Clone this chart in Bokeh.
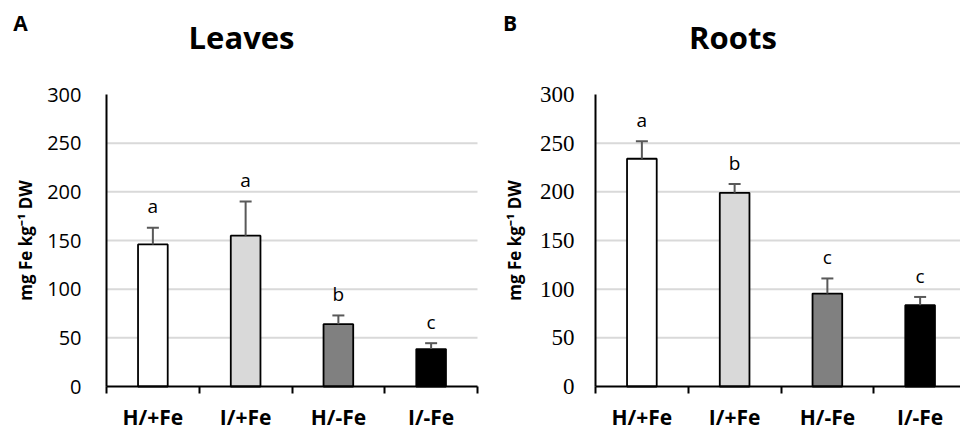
from bokeh.plotting import figure
from bokeh.models import (Range1d, FixedTicker, Whisker, TeeHead, ColumnDataSource)
from bokeh.layouts import row
from bokeh.core.properties import value
from bokeh.embed import file_html
from bokeh.resources import INLINE

categories = ["H/+Fe", "I/+Fe", "H/-Fe", "I/-Fe"]
bar_colors = ["#ffffff", "#d9d9d9", "#808080", "#000000"]

leaves_mean = [146, 155, 64, 38.5]
leaves_sd = [17, 35, 9, 6]
leaves_letters = ["a", "a", "b", "c"]

roots_mean = [234, 199, 95.5, 83.5]
roots_sd = [18, 9, 15.5, 8.5]
roots_letters = ["a", "b", "c", "c"]

y_ticks = [0, 50, 100, 150, 200, 250, 300]
grid_values = [50, 100, 150, 200, 250]
Y_MAX = 300

SANS = "Open Sans"
SERIF = "Liberation Serif"

# layout constants (pixels)
CAT_PX = 92.75           # width of one category
PX_PER_UNIT = 292 / 300  # vertical scale
AXIS_Y_PX = 386          # page y of the x axis
FIG_H = 430


def make_panel(title, letter, means, sds, letters, tick_font, tick_size,
               fig_w, axis_px, label_standoff, axis_label_standoff):
    x_start = -axis_px / CAT_PX
    x_end = (fig_w - axis_px) / CAT_PX
    y_end = AXIS_Y_PX / PX_PER_UNIT
    y_start = -(FIG_H - AXIS_Y_PX) / PX_PER_UNIT
    p = figure(frame_width=fig_w, frame_height=FIG_H,
               x_range=Range1d(x_start, x_end), y_range=Range1d(y_start, y_end),
               output_backend="svg", toolbar_location=None,
               min_border_left=0, min_border_right=0,
               min_border_top=0, min_border_bottom=0)
    p.outline_line_color = None
    p.background_fill_color = "white"
    p.border_fill_color = "white"
    p.xgrid.grid_line_color = None
    p.ygrid.grid_line_color = None

    n = len(categories)
    xs = [i + 0.5 for i in range(n)]
    uppers = [m + s for m, s in zip(means, sds)]

    # horizontal gridlines, only across the plotting area
    p.segment(x0=[0] * len(grid_values), x1=[n] * len(grid_values),
              y0=grid_values, y1=grid_values, line_color="#d9d9d9", line_width=2)

    src = ColumnDataSource(dict(x=xs, top=means, upper=uppers, color=bar_colors,
                                letter=letters, ly=[u + 22 for u in uppers]))

    p.vbar(x="x", top="top", bottom=0, width=0.32, fill_color="color",
           line_color="black", line_width=1.8, source=src)

    w = Whisker(source=src, base="x", lower="top", upper="upper", dimension="height",
                line_color="#595959", line_width=2,
                upper_head=TeeHead(size=12, line_color="#595959", line_width=2),
                lower_head=None, level="overlay")
    p.add_layout(w)

    p.text(x="x", y="ly", text="letter", source=src, text_font=value(SANS),
           text_font_size="19px", text_align="center", text_baseline="middle",
           text_color="black")

    # panel title and panel letter (placed in data space above the axes)
    p.text(x=[title[1]], y=[359], text=[title[0]], text_font=value(SANS),
           text_font_style="bold", text_font_size="31px", text_align="center",
           text_baseline="middle", text_color="black")
    p.text(x=[letter[1]], y=[373], text=[letter[0]], text_font=value(SANS),
           text_font_style="bold", text_font_size="21px", text_align="center",
           text_baseline="middle", text_color="black")

    # y axis, fixed at x = 0
    ya = p.yaxis[0]
    ya.fixed_location = 0
    ya.bounds = (0, Y_MAX)
    ya.ticker = FixedTicker(ticks=y_ticks, minor_ticks=[])
    ya.major_tick_in = 0
    ya.major_tick_out = 0
    ya.minor_tick_line_color = None
    ya.axis_line_color = "black"
    ya.axis_line_width = 2
    ya.major_label_text_font = tick_font
    ya.major_label_text_font_size = tick_size
    ya.major_label_text_color = "black"
    ya.major_label_standoff = label_standoff
    ya.axis_label = "mg Fe kg\u207b\u00b9 DW"
    ya.axis_label_text_font = SANS
    ya.axis_label_text_font_style = "bold"
    ya.axis_label_text_font_size = "17px"
    ya.axis_label_text_color = "black"
    ya.axis_label_standoff = axis_label_standoff

    # x axis, fixed at y = 0
    xa = p.xaxis[0]
    xa.fixed_location = 0
    xa.bounds = (0, n)
    xa.ticker = FixedTicker(ticks=xs, minor_ticks=list(range(n + 1)))
    xa.major_label_overrides = {x: c for x, c in zip(xs, categories)}
    xa.major_tick_line_color = None
    xa.major_tick_in = 0
    xa.major_tick_out = 0
    xa.minor_tick_in = 0
    xa.minor_tick_out = 7
    xa.minor_tick_line_color = "black"
    xa.minor_tick_line_width = 2
    xa.axis_line_color = "black"
    xa.axis_line_width = 2
    xa.major_label_text_font = SANS
    xa.major_label_text_font_style = "bold"
    xa.major_label_text_font_size = "21px"
    xa.major_label_text_color = "black"
    xa.major_label_standoff = 9
    return p


p1 = make_panel(("Leaves", 1.456), ("A", -0.927), leaves_mean, leaves_sd, leaves_letters,
                SANS, "20px", 490, 106, 25, 7)
p2 = make_panel(("Roots", 1.482), ("B", -0.92), roots_mean, roots_sd, roots_letters,
                SERIF, "23px", 470, 105, 21, 11)

layout = row(p1, p2)
open("out.html", "w").write(file_html(layout, INLINE))
